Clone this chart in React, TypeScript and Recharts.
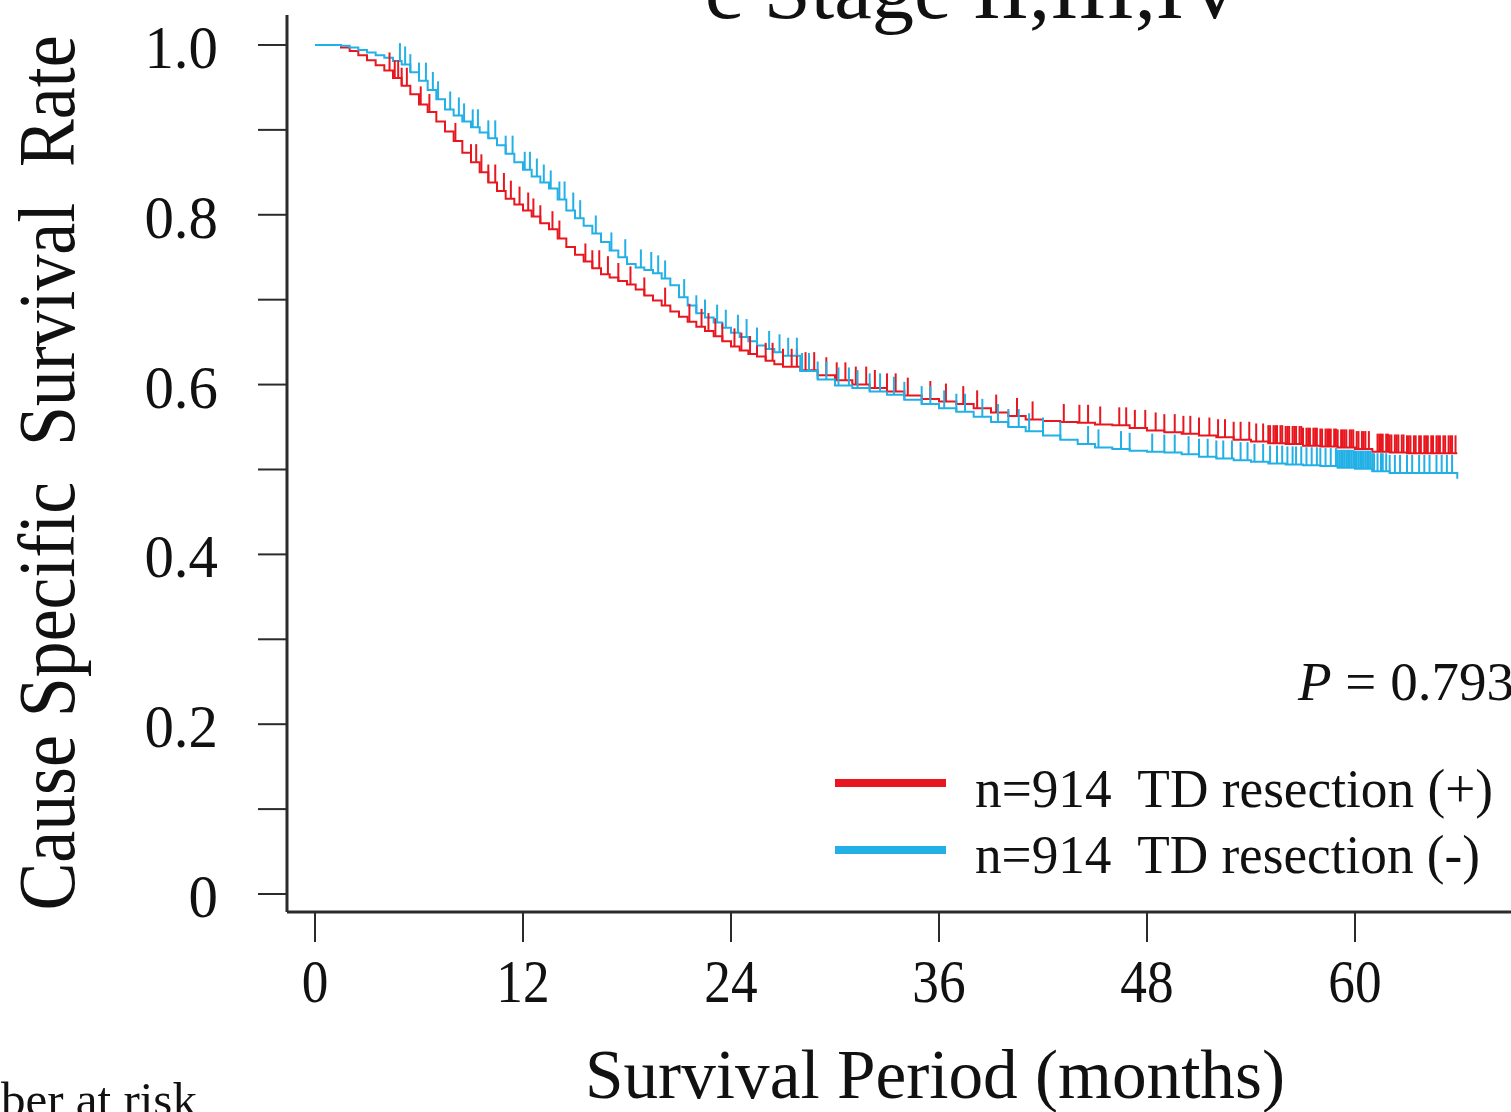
import React from 'react';
import { ComposedChart, Line, Scatter, XAxis, YAxis, Customized } from 'recharts';

const RED = '#e8171f';
const BLUE = '#22b0e6';
const AXIS = '#2b2b2b';
const SERIF = '"Liberation Serif", "Times New Roman", serif';

const xTicks = [0, 12, 24, 36, 48, 60];
const yTicks = [0, 0.1, 0.2, 0.3, 0.4, 0.5, 0.6, 0.7, 0.8, 0.9, 1.0];
const yTickLabels = ['0', '', '0.2', '', '0.4', '', '0.6', '', '0.8', '', '1.0'];

const seriesNames = ['n=914  TD resection (+)', 'n=914  TD resection (-)'];

// TD resection (+) — red
const redTimes = [0, 1.0, 1.5, 2.0, 2.5, 3.0, 3.5, 4.0, 4.5, 5.0, 5.5, 6.0, 6.5, 7.0, 7.5, 8.0, 8.5, 9.0, 9.5, 10.0,
  10.5, 11.0, 11.5, 12.0, 12.5, 13.0, 13.5, 14.0, 14.5, 15.0, 15.5, 16.0, 16.5, 17.0, 17.5, 18.0, 18.5, 19.0, 19.5, 20.0,
  20.5, 21.0, 21.5, 22.0, 22.5, 23.0, 23.5, 24.0, 24.5, 25.0, 25.5, 26.0, 26.5, 27.0, 28, 29, 30, 31, 32, 33,
  34, 35, 36, 37, 38, 39, 40, 41, 42, 43, 44, 45, 46, 47, 48, 49, 50, 51, 52, 53,
  54, 55, 56, 57, 58, 59, 60, 61, 62, 63, 65.9];
const redSurv = [1.0, 1.0, 0.997, 0.993, 0.988, 0.982, 0.976, 0.97, 0.961, 0.952, 0.942, 0.93, 0.921, 0.91, 0.898, 0.887, 0.873, 0.862, 0.85, 0.838,
  0.828, 0.819, 0.812, 0.805, 0.798, 0.79, 0.783, 0.772, 0.762, 0.753, 0.745, 0.737, 0.73, 0.726, 0.722, 0.718, 0.712, 0.705, 0.699, 0.693,
  0.686, 0.68, 0.674, 0.668, 0.663, 0.657, 0.651, 0.645, 0.64, 0.636, 0.633, 0.628, 0.624, 0.621, 0.617, 0.611, 0.605, 0.6, 0.596, 0.592,
  0.587, 0.583, 0.58, 0.577, 0.572, 0.567, 0.563, 0.559, 0.557, 0.556, 0.555, 0.553, 0.552, 0.549, 0.546, 0.544, 0.542, 0.54, 0.538, 0.535,
  0.533, 0.531, 0.53, 0.528, 0.527, 0.526, 0.524, 0.521, 0.52, 0.519, 0.519];

// TD resection (-) — blue
const blueTimes = [0, 1.5, 2.0, 2.5, 3.0, 3.5, 4.0, 4.5, 5.0, 5.5, 6.0, 6.5, 7.0, 7.5, 8.0, 8.5, 9.0, 9.5, 10.0,
  10.5, 11.0, 11.5, 12.0, 12.5, 13.0, 13.5, 14.0, 14.5, 15.0, 15.5, 16.0, 16.5, 17.0, 17.5, 18.0, 18.5, 19.0, 19.5, 20.0,
  20.5, 21.0, 21.5, 22.0, 22.5, 23.0, 23.5, 24.0, 24.5, 25.0, 25.5, 26.0, 26.5, 27.0, 28, 29, 30, 31, 32, 33,
  34, 35, 36, 37, 38, 39, 40, 41, 42, 43, 44, 45, 46, 47, 48, 49, 50, 51, 52, 53,
  54, 55, 56, 57, 58, 59, 60, 61, 62, 65.8, 65.9];
const blueSurv = [1.0, 0.999, 0.997, 0.994, 0.991, 0.988, 0.985, 0.981, 0.977, 0.968, 0.958, 0.947, 0.936, 0.924, 0.917, 0.91, 0.903, 0.897, 0.89,
  0.882, 0.872, 0.862, 0.853, 0.845, 0.838, 0.831, 0.818, 0.805, 0.796, 0.787, 0.778, 0.768, 0.758, 0.75, 0.742, 0.738, 0.735, 0.731, 0.725,
  0.717, 0.703, 0.693, 0.684, 0.679, 0.673, 0.667, 0.661, 0.656, 0.651, 0.646, 0.642, 0.638, 0.634, 0.616, 0.606, 0.599, 0.596, 0.592, 0.588,
  0.582, 0.577, 0.572, 0.568, 0.562, 0.556, 0.55, 0.545, 0.54, 0.535, 0.53, 0.526, 0.524, 0.522, 0.521, 0.52, 0.518, 0.515, 0.513, 0.511,
  0.509, 0.507, 0.506, 0.505, 0.504, 0.502, 0.501, 0.498, 0.496, 0.496, 0.489];

// censoring times (months)
const redCensor = [4.3, 4.6, 4.8, 5.0, 5.3, 6.1, 6.6, 8.1, 9.0, 9.3, 9.6, 10.0, 10.4, 10.9, 11.3, 11.8, 12.3, 12.6, 13.0, 13.7,
  14.1, 15.6, 16.0, 16.4, 16.9, 17.5, 18.2, 19.0, 20.2, 21.6, 22.3, 22.7, 23.1, 23.5, 24.2, 24.6, 25.1, 25.5, 26.0, 26.4,
  27.0, 27.5, 27.8, 28.3, 28.8, 29.5, 30.1, 30.6, 31.2, 31.8, 32.3, 33.0, 33.5, 34.2, 35.5, 36.4, 37.4, 38.2, 39.3, 40.5,
  41.4, 43.2, 44.1, 44.6, 45.3, 46.4, 46.8, 47.3, 47.9, 48.5, 49.0, 49.6, 50.1, 50.5, 51.0, 51.6, 52.1, 52.5, 53.0, 53.4,
  53.9, 54.3, 54.7, 55.0, 55.1, 55.3, 55.4, 55.5, 55.7, 55.8, 56.0, 56.1, 56.2, 56.4, 56.5, 56.6, 56.8, 56.9, 57.0, 57.2,
  57.3, 57.4, 57.6, 57.7, 57.8, 58.0, 58.1, 58.3, 58.4, 58.5, 58.6, 58.8, 58.9, 59.0, 59.2, 59.3, 59.4, 59.5, 59.7, 59.8,
  59.9, 60.1, 60.2, 60.4, 60.5, 60.6, 60.8, 61.3, 61.4, 61.5, 61.6, 61.8, 61.9, 62.0, 62.1, 62.3, 62.4, 62.5, 62.7, 62.8,
  63.0, 63.1, 63.2, 63.4, 63.5, 63.7, 63.8, 64.0, 64.1, 64.2, 64.4, 64.5, 64.7, 64.8, 64.9, 65.1, 65.2, 65.4, 65.5, 65.6,
  65.8];
const blueCensor = [4.9, 5.2, 5.5, 6.0, 6.4, 6.8, 7.1, 7.8, 8.3, 8.6, 9.1, 9.4, 10.0, 10.4, 11.0, 11.4, 12.1, 12.4, 12.8, 13.2,
  13.6, 14.1, 14.4, 14.9, 15.3, 16.2, 17.1, 17.9, 18.8, 19.4, 19.8, 20.2, 21.3, 22.0, 22.5, 23.2, 23.7, 24.4, 24.9, 25.5,
  26.2, 26.8, 27.3, 27.8, 28.1, 28.5, 29.0, 29.5, 30.2, 30.8, 31.3, 32.0, 32.6, 33.4, 34.0, 35.0, 35.5, 36.3, 37.0, 37.5,
  38.5, 39.4, 40.0, 40.6, 41.2, 42.0, 43.0, 44.6, 45.2, 46.5, 47.0, 48.3, 49.0, 49.6, 50.4, 51.0, 51.5, 52.0, 52.4, 52.9,
  53.4, 53.8, 54.2, 54.7, 55.1, 55.5, 55.8, 56.1, 56.4, 56.6, 56.9, 57.2, 57.5, 57.8, 58.0, 58.3, 58.6, 58.9, 59.0, 59.1,
  59.2, 59.3, 59.4, 59.5, 59.6, 59.7, 59.8, 59.9, 60.0, 60.1, 60.2, 60.3, 60.4, 60.5, 60.6, 60.7, 60.8, 60.9, 61.0, 61.1,
  61.3, 61.5, 61.6, 61.8, 62.0, 62.3, 62.6, 63.0, 63.3, 63.7, 64.0, 64.3, 64.7, 65.0, 65.3, 65.6];

const toCurve = (times: number[], surv: number[]) => times.map((t, i) => ({ t, s: surv[i] }));
const survAt = (times: number[], surv: number[], c: number) => {
  let v = surv[0];
  for (let i = 0; i < times.length; i++) if (times[i] <= c) v = surv[i];
  return v;
};
const toCensor = (times: number[], surv: number[], cens: number[]) =>
  cens.map((c) => ({ t: c, s: survAt(times, surv, c) }));

const redCurve = toCurve(redTimes, redSurv);
const blueCurve = toCurve(blueTimes, blueSurv);
const redMarks = toCensor(redTimes, redSurv, redCensor);
const blueMarks = toCensor(blueTimes, blueSurv, blueCensor);

const XTick = (props: any) => {
  const { x, y, payload } = props;
  return (
    <text transform={`translate(${x},${y + 58}) scale(0.86,1)`} textAnchor="middle" fontFamily={SERIF} fontSize={62} fill="#111">
      {payload.value}
    </text>
  );
};

const YTick = (props: any) => {
  const { x, y, payload } = props;
  const idx = yTicks.findIndex((v) => Math.abs(v - payload.value) < 1e-6);
  const label = idx >= 0 ? yTickLabels[idx] : '';
  if (!label) return null;
  return (
    <text transform={`translate(${x - 38},${y + 23}) scale(0.95,1)`} textAnchor="end" fontFamily={SERIF} fontSize={62} fill="#111">
      {label}
    </text>
  );
};

const censorShape = (color: string) => (p: any) => (
  <line x1={p.cx} x2={p.cx} y1={p.cy} y2={p.cy - 18} stroke={color} strokeWidth={2} />
);

const Overlay = () => (
  <g fontFamily={SERIF} fill="#111">
    <text x={705} y={18} fontSize={80} textLength={540} lengthAdjust="spacingAndGlyphs">c Stage II,III,IV</text>
    <text transform="translate(74,473) rotate(-90)" textAnchor="middle" fontSize={80} textLength={875}
      lengthAdjust="spacingAndGlyphs" style={{ whiteSpace: 'pre' }}>Cause Specific  Survival  Rate</text>
    <text x={935} y={1098} textAnchor="middle" fontSize={70} textLength={700} lengthAdjust="spacingAndGlyphs">Survival Period (months)</text>
    <text x={1298} y={700} fontSize={55} style={{ whiteSpace: 'pre' }}>
      <tspan fontStyle="italic">P</tspan> = 0.793
    </text>
    <line x1={835} x2={946} y1={783} y2={783} stroke={RED} strokeWidth={8} />
    <line x1={835} x2={946} y1={850} y2={850} stroke={BLUE} strokeWidth={8} />
    <text x={975} y={807} fontSize={55} textLength={518} lengthAdjust="spacingAndGlyphs" style={{ whiteSpace: 'pre' }}>{seriesNames[0]}</text>
    <text x={975} y={873} fontSize={55} textLength={505} lengthAdjust="spacingAndGlyphs" style={{ whiteSpace: 'pre' }}>{seriesNames[1]}</text>
    <text x={-97} y={1116} fontSize={49}>Number at risk</text>
  </g>
);

export default function App() {
  return (
    <div style={{ position: 'absolute', left: 0, top: 0, width: 1511, height: 1112, background: '#fff' }}>
      <ComposedChart width={1511} height={1112} margin={{ top: 15, right: 0, bottom: 0, left: 0 }}>
        <XAxis
          dataKey="t"
          type="number"
          domain={[-1.615, 69]}
          ticks={xTicks}
          allowDataOverflow
          height={200}
          tickSize={30}
          tickMargin={2}
          axisLine={{ stroke: AXIS, strokeWidth: 3 }}
          tickLine={{ stroke: AXIS, strokeWidth: 2 }}
          tick={<XTick />}
          interval={0}
        />
        <YAxis
          type="number"
          domain={[-0.0212, 1.0353]}
          ticks={yTicks}
          allowDataOverflow
          width={287}
          tickSize={29}
          tickMargin={2}
          axisLine={{ stroke: AXIS, strokeWidth: 3 }}
          tickLine={{ stroke: AXIS, strokeWidth: 2 }}
          tick={<YTick />}
          interval={0}
        />
        <Line data={redCurve} dataKey="s" type="stepAfter" stroke={RED} strokeWidth={2} dot={false} isAnimationActive={false} />
        <Line data={blueCurve} dataKey="s" type="stepAfter" stroke={BLUE} strokeWidth={2} dot={false} isAnimationActive={false} />
        <Scatter data={redMarks} dataKey="s" shape={censorShape(RED)} isAnimationActive={false} />
        <Scatter data={blueMarks} dataKey="s" shape={censorShape(BLUE)} isAnimationActive={false} />
        <Customized component={Overlay} />
      </ComposedChart>
    </div>
  );
}
